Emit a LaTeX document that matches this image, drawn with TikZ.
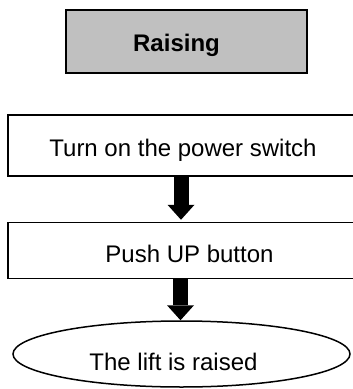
\documentclass[tikz,border=0pt]{standalone}
\usepackage{fontspec}
\setmainfont{Liberation Sans}
\usetikzlibrary{shapes.geometric,arrows.meta}
\definecolor{boxgray}{RGB}{192,192,192}
\tikzset{
  lbl/.style={anchor=base,inner sep=0pt,font=\fontsize{24}{28}\selectfont},
  stepbox/.style={draw=black,line width=1.5pt,rectangle,inner sep=0pt},
  titlebox/.style={stepbox,fill=boxgray,line width=1.8pt},
  endoval/.style={draw=black,line width=1.5pt,ellipse,inner sep=0pt},
  bigarrow/.style={line width=15pt,-{Triangle[length=15pt 0 0,width=27pt 0 0,line width=0pt]}}
}
\begin{document}
\begin{tikzpicture}[x=1pt,y=-1pt]
\clip (0,0) rectangle (353,389);
\node[titlebox,minimum width=241pt,minimum height=63pt] (t) at (186.5,41.5) {};
\node[lbl,font=\fontsize{24}{28}\selectfont\bfseries] (tl) at (176.5,51) {Raising};
\node[stepbox,minimum width=350pt,minimum height=61pt] (b1) at (183,145.5) {};
\node[lbl] (b1l) at (183,156.7) {Turn on the power switch};
\node[stepbox,minimum width=363pt,minimum height=56pt] (b2) at (189.5,250.5) {};
\node[lbl] (b2l) at (189.5,262.3) {Push UP button};
\node[endoval,minimum width=337pt,minimum height=66pt] (el) at (181.5,354) {};
\node[lbl] (ell) at (173.5,370) {The lift is raised};
\draw[bigarrow] ([xshift=-2pt]b1.south) -- ([xshift=-8.5pt,yshift=2pt]b2.north);
\draw[bigarrow] ([xshift=-9pt]b2.south) -- ([xshift=-1pt]el.north);
\end{tikzpicture}
\end{document}
